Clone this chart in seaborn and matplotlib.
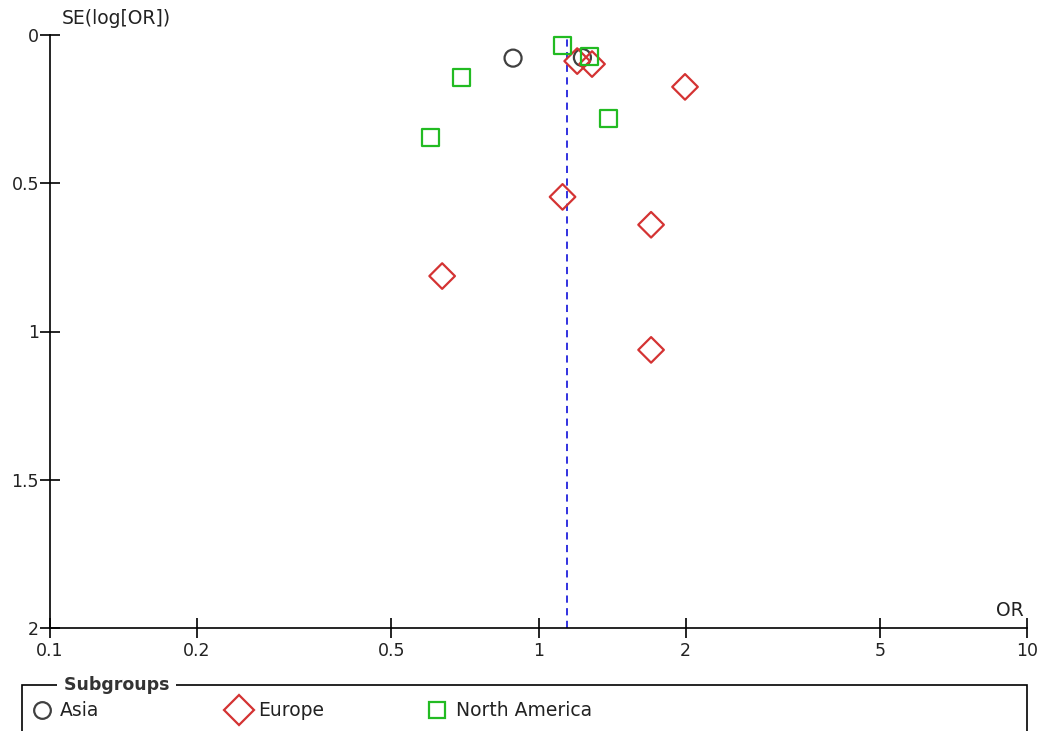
import matplotlib
matplotlib.use("Agg")
import matplotlib.pyplot as plt
import seaborn as sns
import pandas as pd
from matplotlib.lines import Line2D
from matplotlib.patches import Rectangle

sns.set_style("white")
plt.rcParams['font.family'] = ['DejaVu Sans']

# Data
asia_or = [0.887, 1.23]
asia_se = [0.078, 0.076]
europe_or = [1.20, 1.287, 1.995, 1.12, 1.70, 0.635, 1.70]
europe_se = [0.088, 0.098, 0.175, 0.546, 0.64, 0.813, 1.062]
na_or = [1.12, 1.27, 0.697, 0.60, 1.39]
na_se = [0.037, 0.074, 0.145, 0.347, 0.28]
pooled_or = 1.143

groups = ["Asia", "Europe", "North America"]
colors = {"Asia": "#404040", "Europe": "#d43333", "North America": "#22bb22"}
markers = {"Asia": "o", "Europe": "D", "North America": "s"}
sizes = {"Asia": 150, "Europe": 170, "North America": 150}

x_ticks = [0.1, 0.2, 0.5, 1, 2, 5, 10]
x_labels = ["0.1", "0.2", "0.5", "1", "2", "5", "10"]
y_ticks = [0, 0.5, 1, 1.5, 2]
y_labels = ["0", "0.5", "1", "1.5", "2"]

df = pd.concat([
    pd.DataFrame({"OR": asia_or, "SE": asia_se, "group": "Asia"}),
    pd.DataFrame({"OR": europe_or, "SE": europe_se, "group": "Europe"}),
    pd.DataFrame({"OR": na_or, "SE": na_se, "group": "North America"}),
])

FS = 12.5
FL = 13.5
W, H = 1046, 731
fig = plt.figure(figsize=(W / 100, H / 100), dpi=100)
ax = fig.add_axes([50 / W, 1 - 628 / H, (1027 - 50) / W, (628 - 35) / H])

ax.axvline(pooled_or, color="#2222dd", linestyle=(0, (4, 3)), linewidth=1.3, zorder=1)

for g in groups:
    sub = df[df["group"] == g]
    n_before = len(ax.collections)
    sns.scatterplot(data=sub, x="OR", y="SE", marker=markers[g], s=sizes[g],
                    color=colors[g], ax=ax, legend=False, zorder=3)
    coll = ax.collections[n_before]
    coll.set_facecolors("none")
    coll.set_edgecolors(colors[g])
    coll.set_linewidths(1.6)

ax.set_xscale("log")
ax.set_xlim(0.1, 10)
ax.set_ylim(2, 0)
ax.set_xticks(x_ticks)
ax.set_xticklabels(x_labels)
ax.minorticks_off()
ax.set_yticks(y_ticks)
ax.set_yticklabels(y_labels)
ax.set_xlabel("")
ax.set_ylabel("")
for s in ["top", "right"]:
    ax.spines[s].set_visible(False)
for s in ["left", "bottom"]:
    ax.spines[s].set_color("black")
    ax.spines[s].set_linewidth(1.2)
ax.tick_params(axis="both", which="major", bottom=True, left=True,
               direction="inout", length=14, width=1.2,
               color="black", labelsize=FS, labelcolor="#222222")
ax.tick_params(axis="x", pad=3)
ax.tick_params(axis="y", pad=1)
ax.text(62 / W, 1 - 19 / H, "SE(log[OR])", transform=fig.transFigure,
        fontsize=FL, color="#222222", ha="left", va="center")
ax.text(1024 / W, 1 - 611 / H, "OR", transform=fig.transFigure,
        fontsize=FL, color="#222222", ha="right", va="center")

# Legend box
rect = Rectangle((22 / W, -0.05), (1027 - 22) / W, (0.05 + 1 - 685 / H),
                 transform=fig.transFigure, fill=False, edgecolor="black",
                 linewidth=1.2, clip_on=False)
fig.add_artist(rect)
fig.text(58 / W, 1 - 685 / H, " Subgroups ", fontsize=FS, fontweight="bold",
         color="#333333", ha="left", va="center",
         bbox=dict(facecolor="white", edgecolor="none", pad=0.5))
leg_y = 1 - 710 / H
leg_pos = {"Asia": (42, 60), "Europe": (239, 258), "North America": (437, 456)}
for g in groups:
    mx, tx = leg_pos[g]
    ms = 12 if g != "Europe" else 15
    fig.add_artist(Line2D([mx / W], [leg_y], marker=markers[g], markersize=ms,
                          markerfacecolor="none", markeredgecolor=colors[g],
                          markeredgewidth=1.6, linestyle="none",
                          transform=fig.transFigure))
    fig.text(tx / W, leg_y, g, fontsize=FL, color="#222222", ha="left", va="center")

fig.savefig("out.png", dpi=100)
